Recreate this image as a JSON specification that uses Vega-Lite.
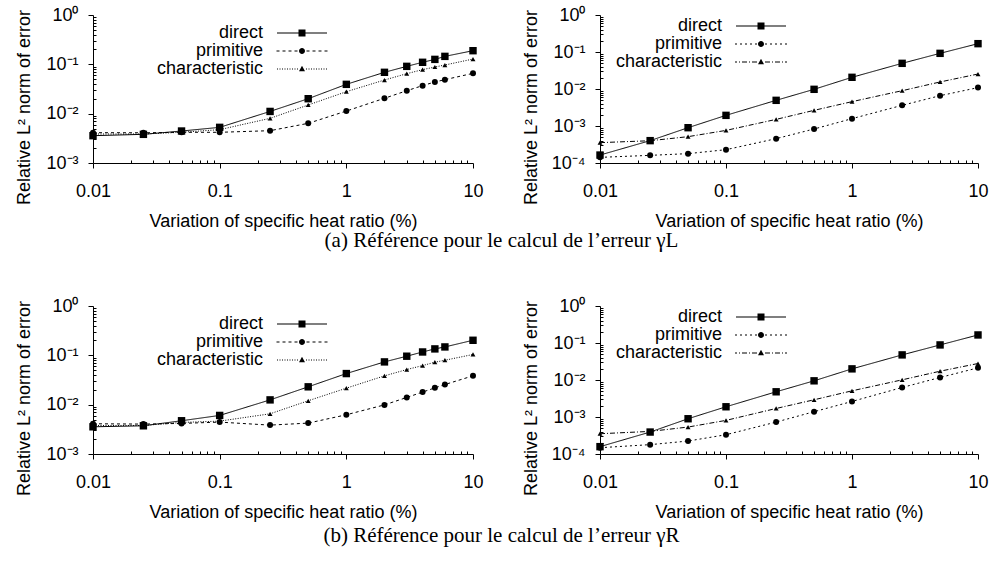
{
  "$schema": "https://vega.github.io/schema/vega-lite/v6.json",
  "background": "white",
  "padding": {"left": 15, "top": 6, "right": 5, "bottom": 5},
  "spacing": 46,
  "datasets": {
    "tl": [
      {"x": 0.01, "s": "direct", "y": 0.00358}, {"x": 0.025, "s": "direct", "y": 0.00381}, {"x": 0.05, "s": "direct", "y": 0.00445}, {"x": 0.1, "s": "direct", "y": 0.00528}, {"x": 0.25, "s": "direct", "y": 0.0111}, {"x": 0.5, "s": "direct", "y": 0.0201}, {"x": 1, "s": "direct", "y": 0.0393}, {"x": 2, "s": "direct", "y": 0.0689}, {"x": 3, "s": "direct", "y": 0.091}, {"x": 4, "s": "direct", "y": 0.11}, {"x": 5, "s": "direct", "y": 0.126}, {"x": 6, "s": "direct", "y": 0.145}, {"x": 10, "s": "direct", "y": 0.189},
      {"x": 0.01, "s": "primitive", "y": 0.00412}, {"x": 0.025, "s": "primitive", "y": 0.0041}, {"x": 0.05, "s": "primitive", "y": 0.00419}, {"x": 0.1, "s": "primitive", "y": 0.00419}, {"x": 0.25, "s": "primitive", "y": 0.00452}, {"x": 0.5, "s": "primitive", "y": 0.00637}, {"x": 1, "s": "primitive", "y": 0.0113}, {"x": 2, "s": "primitive", "y": 0.0205}, {"x": 3, "s": "primitive", "y": 0.0292}, {"x": 4, "s": "primitive", "y": 0.037}, {"x": 5, "s": "primitive", "y": 0.0439}, {"x": 6, "s": "primitive", "y": 0.0489}, {"x": 10, "s": "primitive", "y": 0.0657},
      {"x": 0.01, "s": "characteristic", "y": 0.00387}, {"x": 0.025, "s": "characteristic", "y": 0.00387}, {"x": 0.05, "s": "characteristic", "y": 0.0042}, {"x": 0.1, "s": "characteristic", "y": 0.00474}, {"x": 0.25, "s": "characteristic", "y": 0.00804}, {"x": 0.5, "s": "characteristic", "y": 0.015}, {"x": 1, "s": "characteristic", "y": 0.0279}, {"x": 2, "s": "characteristic", "y": 0.0481}, {"x": 3, "s": "characteristic", "y": 0.0647}, {"x": 4, "s": "characteristic", "y": 0.078}, {"x": 5, "s": "characteristic", "y": 0.0883}, {"x": 6, "s": "characteristic", "y": 0.0969}, {"x": 10, "s": "characteristic", "y": 0.128}
    ],
    "tr": [
      {"x": 0.01, "s": "direct", "y": 0.000164}, {"x": 0.025, "s": "direct", "y": 0.000402}, {"x": 0.05, "s": "direct", "y": 0.0009}, {"x": 0.1, "s": "direct", "y": 0.00194}, {"x": 0.25, "s": "direct", "y": 0.00494}, {"x": 0.5, "s": "direct", "y": 0.0098}, {"x": 1, "s": "direct", "y": 0.0207}, {"x": 2.5, "s": "direct", "y": 0.0494}, {"x": 5, "s": "direct", "y": 0.092}, {"x": 10, "s": "direct", "y": 0.168},
      {"x": 0.01, "s": "primitive", "y": 0.000142}, {"x": 0.025, "s": "primitive", "y": 0.000161}, {"x": 0.05, "s": "primitive", "y": 0.000179}, {"x": 0.1, "s": "primitive", "y": 0.000229}, {"x": 0.25, "s": "primitive", "y": 0.000455}, {"x": 0.5, "s": "primitive", "y": 0.00083}, {"x": 1, "s": "primitive", "y": 0.00158}, {"x": 2.5, "s": "primitive", "y": 0.00362}, {"x": 5, "s": "primitive", "y": 0.0066}, {"x": 10, "s": "primitive", "y": 0.0109},
      {"x": 0.01, "s": "characteristic", "y": 0.000355}, {"x": 0.025, "s": "characteristic", "y": 0.0004}, {"x": 0.05, "s": "characteristic", "y": 0.000515}, {"x": 0.1, "s": "characteristic", "y": 0.00076}, {"x": 0.25, "s": "characteristic", "y": 0.00151}, {"x": 0.5, "s": "characteristic", "y": 0.00265}, {"x": 1, "s": "characteristic", "y": 0.00455}, {"x": 2.5, "s": "characteristic", "y": 0.009}, {"x": 5, "s": "characteristic", "y": 0.0155}, {"x": 10, "s": "characteristic", "y": 0.0254}
    ],
    "bl": [
      {"x": 0.01, "s": "direct", "y": 0.00356}, {"x": 0.025, "s": "direct", "y": 0.00373}, {"x": 0.05, "s": "direct", "y": 0.00472}, {"x": 0.1, "s": "direct", "y": 0.00605}, {"x": 0.25, "s": "direct", "y": 0.0125}, {"x": 0.5, "s": "direct", "y": 0.023}, {"x": 1, "s": "direct", "y": 0.0427}, {"x": 2, "s": "direct", "y": 0.0736}, {"x": 3, "s": "direct", "y": 0.096}, {"x": 4, "s": "direct", "y": 0.117}, {"x": 5, "s": "direct", "y": 0.135}, {"x": 6, "s": "direct", "y": 0.148}, {"x": 10, "s": "direct", "y": 0.202},
      {"x": 0.01, "s": "primitive", "y": 0.0041}, {"x": 0.025, "s": "primitive", "y": 0.00404}, {"x": 0.05, "s": "primitive", "y": 0.00417}, {"x": 0.1, "s": "primitive", "y": 0.00443}, {"x": 0.25, "s": "primitive", "y": 0.00385}, {"x": 0.5, "s": "primitive", "y": 0.00423}, {"x": 1, "s": "primitive", "y": 0.00624}, {"x": 2, "s": "primitive", "y": 0.0099}, {"x": 3, "s": "primitive", "y": 0.014}, {"x": 4, "s": "primitive", "y": 0.018}, {"x": 5, "s": "primitive", "y": 0.0219}, {"x": 6, "s": "primitive", "y": 0.0256}, {"x": 10, "s": "primitive", "y": 0.0384},
      {"x": 0.01, "s": "characteristic", "y": 0.00379}, {"x": 0.025, "s": "characteristic", "y": 0.00379}, {"x": 0.05, "s": "characteristic", "y": 0.00436}, {"x": 0.1, "s": "characteristic", "y": 0.00464}, {"x": 0.25, "s": "characteristic", "y": 0.00653}, {"x": 0.5, "s": "characteristic", "y": 0.012}, {"x": 1, "s": "characteristic", "y": 0.0216}, {"x": 2, "s": "characteristic", "y": 0.0384}, {"x": 3, "s": "characteristic", "y": 0.0515}, {"x": 4, "s": "characteristic", "y": 0.062}, {"x": 5, "s": "characteristic", "y": 0.0725}, {"x": 6, "s": "characteristic", "y": 0.0796}, {"x": 10, "s": "characteristic", "y": 0.104}
    ],
    "br": [
      {"x": 0.01, "s": "direct", "y": 0.000158}, {"x": 0.025, "s": "direct", "y": 0.000392}, {"x": 0.05, "s": "direct", "y": 0.000897}, {"x": 0.1, "s": "direct", "y": 0.00189}, {"x": 0.25, "s": "direct", "y": 0.0048}, {"x": 0.5, "s": "direct", "y": 0.0095}, {"x": 1, "s": "direct", "y": 0.02}, {"x": 2.5, "s": "direct", "y": 0.0477}, {"x": 5, "s": "direct", "y": 0.0887}, {"x": 10, "s": "direct", "y": 0.165},
      {"x": 0.01, "s": "primitive", "y": 0.000148}, {"x": 0.025, "s": "primitive", "y": 0.000179}, {"x": 0.05, "s": "primitive", "y": 0.000224}, {"x": 0.1, "s": "primitive", "y": 0.000332}, {"x": 0.25, "s": "primitive", "y": 0.00073}, {"x": 0.5, "s": "primitive", "y": 0.00139}, {"x": 1, "s": "primitive", "y": 0.00263}, {"x": 2.5, "s": "primitive", "y": 0.00628}, {"x": 5, "s": "primitive", "y": 0.0117}, {"x": 10, "s": "primitive", "y": 0.0213},
      {"x": 0.01, "s": "characteristic", "y": 0.000353}, {"x": 0.025, "s": "characteristic", "y": 0.000408}, {"x": 0.05, "s": "characteristic", "y": 0.000535}, {"x": 0.1, "s": "characteristic", "y": 0.00081}, {"x": 0.25, "s": "characteristic", "y": 0.0017}, {"x": 0.5, "s": "characteristic", "y": 0.00292}, {"x": 1, "s": "characteristic", "y": 0.0051}, {"x": 2.5, "s": "characteristic", "y": 0.0101}, {"x": 5, "s": "characteristic", "y": 0.0173}, {"x": 10, "s": "characteristic", "y": 0.0279}
    ]
  },
  "config": {
    "view": {"stroke": null},
    "font": "Liberation Sans",
    "axis": {
      "grid": false, "domainColor": "black", "domainWidth": 1, "tickColor": "black", "tickWidth": 1,
      "labelColor": "black", "titleColor": "black", "labelFont": "Liberation Sans", "titleFont": "Liberation Sans",
      "labelFontSize": 18, "titleFontSize": 18, "titleFontWeight": "normal",
      "labelOverlap": false, "labelFlush": false, "labelBound": false
    },
    "legend": {
      "orient": "none", "title": null, "labelFont": "Liberation Sans", "labelFontSize": 18, "labelColor": "black",
      "labelAlign": "right", "labelOffset": -48, "symbolSize": 100, "rowPadding": 0, "padding": 0,
      "symbolStrokeWidth": 1, "symbolStrokeColor": "black", "symbolFillColor": "black", "symbolOpacity": 1
    },
    "title": {"font": "Liberation Serif", "fontSize": 21, "fontWeight": "normal", "color": "black"}
  },
  "vconcat": [
    {
      "title": {"text": "(a)  Référence pour le calcul de l’erreur γL", "orient": "bottom", "anchor": "middle", "offset": 0},
      "spacing": 38,
      "resolve": {"scale": {"strokeDash": "independent", "shape": "independent"}, "legend": {"strokeDash": "independent", "shape": "independent"}},
      "hconcat": [
        {
          "width": 380, "height": 148,
          "data": {"name": "tl"},
          "encoding": {
            "x": {"field": "x", "type": "quantitative", "title": "Variation of specific heat ratio (%)",
              "scale": {"type": "log", "domain": [0.01, 10], "nice": false},
              "axis": {"values": [0.01,0.02,0.03,0.04,0.05,0.06,0.07,0.08,0.09,0.1,0.2,0.3,0.4,0.5,0.6,0.7,0.8,0.9,1,2,3,4,5,6,7,8,9,10],
                "labelExpr": "datum.value==0.01?'0.01':datum.value==0.1?'0.1':datum.value==1?'1':datum.value==10?'10':''",
                "tickSize": {"condition": {"test": "indexof([0.01,0.1,1,10], datum.value) >= 0", "value": 5}, "value": -3},
                "labelPadding": 14, "titlePadding": 12}},
            "y": {"field": "y", "type": "quantitative", "title": "Relative L² norm of error",
              "scale": {"type": "log", "domain": [0.001, 1], "nice": false},
              "axis": {"values": [0.001,0.002,0.003,0.004,0.005,0.006,0.007,0.008,0.009,0.01,0.02,0.03,0.04,0.05,0.06,0.07,0.08,0.09,0.1,0.2,0.3,0.4,0.5,0.6,0.7,0.8,0.9,1],
                "labelExpr": "datum.value==1?'10⁰':datum.value==0.1?'10⁻¹':datum.value==0.01?'10⁻²':datum.value==0.001?'10⁻³':datum.value==0.0001?'10⁻⁴':''",
                "tickSize": {"condition": {"test": "indexof([0.0001,0.001,0.01,0.1,1], datum.value) >= 0", "value": 5}, "value": -3},
                "labelPadding": 10, "titleX": -60, "titleY": 92, "titleBaseline": "bottom", "titleAngle": 270, "titleAlign": "center"}}
          },
          "layer": [
            {"mark": {"type": "line", "color": "black", "strokeWidth": 1},
             "encoding": {"strokeDash": {"field": "s", "type": "nominal",
               "scale": {"domain": ["direct", "primitive", "characteristic"], "range": [[1, 0], [3, 3], [1, 1.5]]},
               "legend": {"legendX": 200, "legendY": 9}}}},
            {"transform": [{"filter": "datum.s=='direct'"}], "mark": {"type": "point", "shape": "square", "filled": true, "color": "black", "size": 55, "opacity": 1}},
            {"transform": [{"filter": "datum.s=='primitive'"}], "mark": {"type": "point", "shape": "circle", "filled": true, "color": "black", "size": 36, "opacity": 1}},
            {"transform": [{"filter": "datum.s=='characteristic'"}], "mark": {"type": "point", "shape": "triangle-up", "filled": true, "color": "black", "size": 24, "opacity": 1}},
            {"transform": [{"filter": "false"}],
             "mark": {"type": "point", "filled": false, "fill": "black", "stroke": "black", "strokeWidth": 1, "opacity": 1},
             "encoding": {"shape": {"field": "s", "type": "nominal",
               "scale": {"domain": ["direct", "primitive", "characteristic"], "range": [
                 "M-5,-0.1H5V0.1H-5ZM-0.7,-0.7H0.7V0.7H-0.7Z",
                 "M-5.1,-0.1H-4.5V0.1H-5.1ZM-3.9,-0.1H-3.3V0.1H-3.9ZM-2.7,-0.1H-2.1V0.1H-2.7ZM-1.5,-0.1H-0.9V0.1H-1.5ZM0.9,-0.1H1.5V0.1H0.9ZM2.1,-0.1H2.7V0.1H2.1ZM3.3,-0.1H3.9V0.1H3.3ZM4.5,-0.1H5.1V0.1H4.5ZM-0.6,0A0.6,0.6 0 1,0 0.6,0A0.6,0.6 0 1,0 -0.6,0Z",
                 "M0.8,-0.1H1V0.1H0.8ZM1.3,-0.1H1.5V0.1H1.3ZM1.8,-0.1H2V0.1H1.8ZM2.3,-0.1H2.5V0.1H2.3ZM2.8,-0.1H3V0.1H2.8ZM3.3,-0.1H3.5V0.1H3.3ZM3.8,-0.1H4V0.1H3.8ZM4.3,-0.1H4.5V0.1H4.3ZM4.8,-0.1H5V0.1H4.8ZM-1,-0.1H-0.8V0.1H-1ZM-1.5,-0.1H-1.3V0.1H-1.5ZM-2,-0.1H-1.8V0.1H-2ZM-2.5,-0.1H-2.3V0.1H-2.5ZM-3,-0.1H-2.8V0.1H-3ZM-3.5,-0.1H-3.3V0.1H-3.5ZM-4,-0.1H-3.8V0.1H-4ZM-4.5,-0.1H-4.3V0.1H-4.5ZM-5,-0.1H-4.8V0.1H-5ZM0,-0.65L0.6,0.45H-0.6Z"]},
               "legend": {"legendX": 200, "legendY": 9}}}}
          ]
        },
        {
          "width": 378, "height": 148,
          "data": {"name": "tr"},
          "encoding": {
            "x": {"field": "x", "type": "quantitative", "title": "Variation of specific heat ratio (%)",
              "scale": {"type": "log", "domain": [0.01, 10], "nice": false},
              "axis": {"values": [0.01,0.02,0.03,0.04,0.05,0.06,0.07,0.08,0.09,0.1,0.2,0.3,0.4,0.5,0.6,0.7,0.8,0.9,1,2,3,4,5,6,7,8,9,10],
                "labelExpr": "datum.value==0.01?'0.01':datum.value==0.1?'0.1':datum.value==1?'1':datum.value==10?'10':''",
                "tickSize": {"condition": {"test": "indexof([0.01,0.1,1,10], datum.value) >= 0", "value": 5}, "value": -3},
                "labelPadding": 14, "titlePadding": 12}},
            "y": {"field": "y", "type": "quantitative", "title": "Relative L² norm of error",
              "scale": {"type": "log", "domain": [0.0001, 1], "nice": false},
              "axis": {"values": [0.0001,0.0002,0.0003,0.0004,0.0005,0.0006,0.0007,0.0008,0.0009,0.001,0.002,0.003,0.004,0.005,0.006,0.007,0.008,0.009,0.01,0.02,0.03,0.04,0.05,0.06,0.07,0.08,0.09,0.1,0.2,0.3,0.4,0.5,0.6,0.7,0.8,0.9,1],
                "labelExpr": "datum.value==1?'10⁰':datum.value==0.1?'10⁻¹':datum.value==0.01?'10⁻²':datum.value==0.001?'10⁻³':datum.value==0.0001?'10⁻⁴':''",
                "tickSize": {"condition": {"test": "indexof([0.0001,0.001,0.01,0.1,1], datum.value) >= 0", "value": 5}, "value": -3},
                "labelPadding": 10, "titleX": -60, "titleY": 92, "titleBaseline": "bottom", "titleAngle": 270, "titleAlign": "center"}}
          },
          "layer": [
            {"mark": {"type": "line", "color": "black", "strokeWidth": 1},
             "encoding": {"strokeDash": {"field": "s", "type": "nominal",
               "scale": {"domain": ["direct", "primitive", "characteristic"], "range": [[1, 0], [2, 3], [5, 2, 1, 2]]},
               "legend": {"legendX": 152, "legendY": 2}}}},
            {"transform": [{"filter": "datum.s=='direct'"}], "mark": {"type": "point", "shape": "square", "filled": true, "color": "black", "size": 55, "opacity": 1}},
            {"transform": [{"filter": "datum.s=='primitive'"}], "mark": {"type": "point", "shape": "circle", "filled": true, "color": "black", "size": 36, "opacity": 1}},
            {"transform": [{"filter": "datum.s=='characteristic'"}], "mark": {"type": "point", "shape": "triangle-up", "filled": true, "color": "black", "size": 24, "opacity": 1}},
            {"transform": [{"filter": "false"}],
             "mark": {"type": "point", "filled": false, "fill": "black", "stroke": "black", "strokeWidth": 1, "opacity": 1},
             "encoding": {"shape": {"field": "s", "type": "nominal",
               "scale": {"domain": ["direct", "primitive", "characteristic"], "range": [
                 "M-5,-0.1H5V0.1H-5ZM-0.7,-0.7H0.7V0.7H-0.7Z",
                 "M0.8,-0.1H1.2V0.1H0.8ZM1.8,-0.1H2.2V0.1H1.8ZM2.8,-0.1H3.2V0.1H2.8ZM3.8,-0.1H4.2V0.1H3.8ZM4.8,-0.1H5.2V0.1H4.8ZM-1.2,-0.1H-0.8V0.1H-1.2ZM-2.2,-0.1H-1.8V0.1H-2.2ZM-3.2,-0.1H-2.8V0.1H-3.2ZM-4.2,-0.1H-3.8V0.1H-4.2ZM-5.2,-0.1H-4.8V0.1H-5.2ZM-0.6,0A0.6,0.6 0 1,0 0.6,0A0.6,0.6 0 1,0 -0.6,0Z",
                 "M0.8,-0.1H1.8V0.1H0.8ZM2.2,-0.1H2.4V0.1H2.2ZM2.8,-0.1H3.8V0.1H2.8ZM4.2,-0.1H4.4V0.1H4.2ZM4.8,-0.1H5.2V0.1H4.8ZM-1.8,-0.1H-0.8V0.1H-1.8ZM-2.4,-0.1H-2.2V0.1H-2.4ZM-3.8,-0.1H-2.8V0.1H-3.8ZM-4.4,-0.1H-4.2V0.1H-4.4ZM-5.2,-0.1H-4.8V0.1H-5.2ZM0,-0.65L0.6,0.45H-0.6Z"]},
               "legend": {"legendX": 152, "legendY": 2}}}}
          ]
        }
      ]
    },
    {
      "title": {"text": "(b)  Référence pour le calcul de l’erreur γR", "orient": "bottom", "anchor": "middle", "offset": 4},
      "spacing": 38,
      "resolve": {"scale": {"strokeDash": "independent", "shape": "independent"}, "legend": {"strokeDash": "independent", "shape": "independent"}},
      "hconcat": [
        {
          "width": 380, "height": 148,
          "data": {"name": "bl"},
          "encoding": {
            "x": {"field": "x", "type": "quantitative", "title": "Variation of specific heat ratio (%)",
              "scale": {"type": "log", "domain": [0.01, 10], "nice": false},
              "axis": {"values": [0.01,0.02,0.03,0.04,0.05,0.06,0.07,0.08,0.09,0.1,0.2,0.3,0.4,0.5,0.6,0.7,0.8,0.9,1,2,3,4,5,6,7,8,9,10],
                "labelExpr": "datum.value==0.01?'0.01':datum.value==0.1?'0.1':datum.value==1?'1':datum.value==10?'10':''",
                "tickSize": {"condition": {"test": "indexof([0.01,0.1,1,10], datum.value) >= 0", "value": 5}, "value": -3},
                "labelPadding": 14, "titlePadding": 12}},
            "y": {"field": "y", "type": "quantitative", "title": "Relative L² norm of error",
              "scale": {"type": "log", "domain": [0.001, 1], "nice": false},
              "axis": {"values": [0.001,0.002,0.003,0.004,0.005,0.006,0.007,0.008,0.009,0.01,0.02,0.03,0.04,0.05,0.06,0.07,0.08,0.09,0.1,0.2,0.3,0.4,0.5,0.6,0.7,0.8,0.9,1],
                "labelExpr": "datum.value==1?'10⁰':datum.value==0.1?'10⁻¹':datum.value==0.01?'10⁻²':datum.value==0.001?'10⁻³':datum.value==0.0001?'10⁻⁴':''",
                "tickSize": {"condition": {"test": "indexof([0.0001,0.001,0.01,0.1,1], datum.value) >= 0", "value": 5}, "value": -3},
                "labelPadding": 10, "titleX": -60, "titleY": 92, "titleBaseline": "bottom", "titleAngle": 270, "titleAlign": "center"}}
          },
          "layer": [
            {"mark": {"type": "line", "color": "black", "strokeWidth": 1},
             "encoding": {"strokeDash": {"field": "s", "type": "nominal",
               "scale": {"domain": ["direct", "primitive", "characteristic"], "range": [[1, 0], [3, 3], [1, 1.5]]},
               "legend": {"legendX": 200, "legendY": 9}}}},
            {"transform": [{"filter": "datum.s=='direct'"}], "mark": {"type": "point", "shape": "square", "filled": true, "color": "black", "size": 55, "opacity": 1}},
            {"transform": [{"filter": "datum.s=='primitive'"}], "mark": {"type": "point", "shape": "circle", "filled": true, "color": "black", "size": 36, "opacity": 1}},
            {"transform": [{"filter": "datum.s=='characteristic'"}], "mark": {"type": "point", "shape": "triangle-up", "filled": true, "color": "black", "size": 24, "opacity": 1}},
            {"transform": [{"filter": "false"}],
             "mark": {"type": "point", "filled": false, "fill": "black", "stroke": "black", "strokeWidth": 1, "opacity": 1},
             "encoding": {"shape": {"field": "s", "type": "nominal",
               "scale": {"domain": ["direct", "primitive", "characteristic"], "range": [
                 "M-5,-0.1H5V0.1H-5ZM-0.7,-0.7H0.7V0.7H-0.7Z",
                 "M-5.1,-0.1H-4.5V0.1H-5.1ZM-3.9,-0.1H-3.3V0.1H-3.9ZM-2.7,-0.1H-2.1V0.1H-2.7ZM-1.5,-0.1H-0.9V0.1H-1.5ZM0.9,-0.1H1.5V0.1H0.9ZM2.1,-0.1H2.7V0.1H2.1ZM3.3,-0.1H3.9V0.1H3.3ZM4.5,-0.1H5.1V0.1H4.5ZM-0.6,0A0.6,0.6 0 1,0 0.6,0A0.6,0.6 0 1,0 -0.6,0Z",
                 "M0.8,-0.1H1V0.1H0.8ZM1.3,-0.1H1.5V0.1H1.3ZM1.8,-0.1H2V0.1H1.8ZM2.3,-0.1H2.5V0.1H2.3ZM2.8,-0.1H3V0.1H2.8ZM3.3,-0.1H3.5V0.1H3.3ZM3.8,-0.1H4V0.1H3.8ZM4.3,-0.1H4.5V0.1H4.3ZM4.8,-0.1H5V0.1H4.8ZM-1,-0.1H-0.8V0.1H-1ZM-1.5,-0.1H-1.3V0.1H-1.5ZM-2,-0.1H-1.8V0.1H-2ZM-2.5,-0.1H-2.3V0.1H-2.5ZM-3,-0.1H-2.8V0.1H-3ZM-3.5,-0.1H-3.3V0.1H-3.5ZM-4,-0.1H-3.8V0.1H-4ZM-4.5,-0.1H-4.3V0.1H-4.5ZM-5,-0.1H-4.8V0.1H-5ZM0,-0.65L0.6,0.45H-0.6Z"]},
               "legend": {"legendX": 200, "legendY": 9}}}}
          ]
        },
        {
          "width": 378, "height": 148,
          "data": {"name": "br"},
          "encoding": {
            "x": {"field": "x", "type": "quantitative", "title": "Variation of specific heat ratio (%)",
              "scale": {"type": "log", "domain": [0.01, 10], "nice": false},
              "axis": {"values": [0.01,0.02,0.03,0.04,0.05,0.06,0.07,0.08,0.09,0.1,0.2,0.3,0.4,0.5,0.6,0.7,0.8,0.9,1,2,3,4,5,6,7,8,9,10],
                "labelExpr": "datum.value==0.01?'0.01':datum.value==0.1?'0.1':datum.value==1?'1':datum.value==10?'10':''",
                "tickSize": {"condition": {"test": "indexof([0.01,0.1,1,10], datum.value) >= 0", "value": 5}, "value": -3},
                "labelPadding": 14, "titlePadding": 12}},
            "y": {"field": "y", "type": "quantitative", "title": "Relative L² norm of error",
              "scale": {"type": "log", "domain": [0.0001, 1], "nice": false},
              "axis": {"values": [0.0001,0.0002,0.0003,0.0004,0.0005,0.0006,0.0007,0.0008,0.0009,0.001,0.002,0.003,0.004,0.005,0.006,0.007,0.008,0.009,0.01,0.02,0.03,0.04,0.05,0.06,0.07,0.08,0.09,0.1,0.2,0.3,0.4,0.5,0.6,0.7,0.8,0.9,1],
                "labelExpr": "datum.value==1?'10⁰':datum.value==0.1?'10⁻¹':datum.value==0.01?'10⁻²':datum.value==0.001?'10⁻³':datum.value==0.0001?'10⁻⁴':''",
                "tickSize": {"condition": {"test": "indexof([0.0001,0.001,0.01,0.1,1], datum.value) >= 0", "value": 5}, "value": -3},
                "labelPadding": 10, "titleX": -60, "titleY": 92, "titleBaseline": "bottom", "titleAngle": 270, "titleAlign": "center"}}
          },
          "layer": [
            {"mark": {"type": "line", "color": "black", "strokeWidth": 1},
             "encoding": {"strokeDash": {"field": "s", "type": "nominal",
               "scale": {"domain": ["direct", "primitive", "characteristic"], "range": [[1, 0], [2, 3], [5, 2, 1, 2]]},
               "legend": {"legendX": 152, "legendY": 2}}}},
            {"transform": [{"filter": "datum.s=='direct'"}], "mark": {"type": "point", "shape": "square", "filled": true, "color": "black", "size": 55, "opacity": 1}},
            {"transform": [{"filter": "datum.s=='primitive'"}], "mark": {"type": "point", "shape": "circle", "filled": true, "color": "black", "size": 36, "opacity": 1}},
            {"transform": [{"filter": "datum.s=='characteristic'"}], "mark": {"type": "point", "shape": "triangle-up", "filled": true, "color": "black", "size": 24, "opacity": 1}},
            {"transform": [{"filter": "false"}],
             "mark": {"type": "point", "filled": false, "fill": "black", "stroke": "black", "strokeWidth": 1, "opacity": 1},
             "encoding": {"shape": {"field": "s", "type": "nominal",
               "scale": {"domain": ["direct", "primitive", "characteristic"], "range": [
                 "M-5,-0.1H5V0.1H-5ZM-0.7,-0.7H0.7V0.7H-0.7Z",
                 "M0.8,-0.1H1.2V0.1H0.8ZM1.8,-0.1H2.2V0.1H1.8ZM2.8,-0.1H3.2V0.1H2.8ZM3.8,-0.1H4.2V0.1H3.8ZM4.8,-0.1H5.2V0.1H4.8ZM-1.2,-0.1H-0.8V0.1H-1.2ZM-2.2,-0.1H-1.8V0.1H-2.2ZM-3.2,-0.1H-2.8V0.1H-3.2ZM-4.2,-0.1H-3.8V0.1H-4.2ZM-5.2,-0.1H-4.8V0.1H-5.2ZM-0.6,0A0.6,0.6 0 1,0 0.6,0A0.6,0.6 0 1,0 -0.6,0Z",
                 "M0.8,-0.1H1.8V0.1H0.8ZM2.2,-0.1H2.4V0.1H2.2ZM2.8,-0.1H3.8V0.1H2.8ZM4.2,-0.1H4.4V0.1H4.2ZM4.8,-0.1H5.2V0.1H4.8ZM-1.8,-0.1H-0.8V0.1H-1.8ZM-2.4,-0.1H-2.2V0.1H-2.4ZM-3.8,-0.1H-2.8V0.1H-3.8ZM-4.4,-0.1H-4.2V0.1H-4.4ZM-5.2,-0.1H-4.8V0.1H-5.2ZM0,-0.65L0.6,0.45H-0.6Z"]},
               "legend": {"legendX": 152, "legendY": 2}}}}
          ]
        }
      ]
    }
  ]
}
